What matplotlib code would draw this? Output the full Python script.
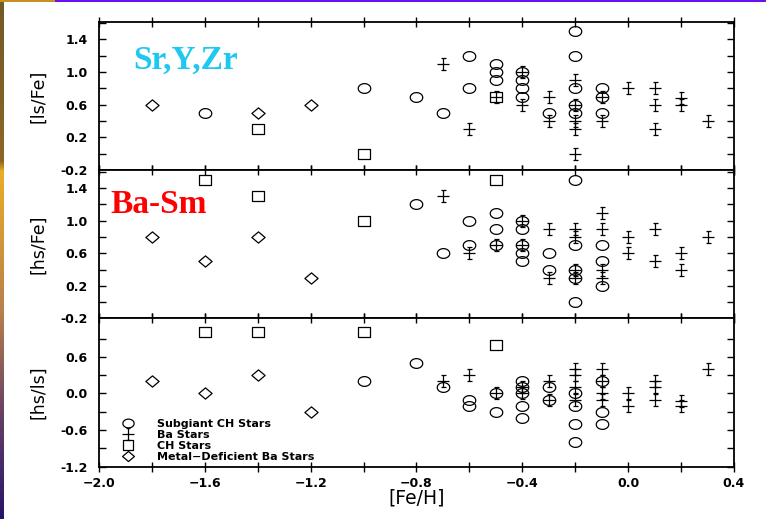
import numpy as np
import matplotlib
matplotlib.use("Agg")
import matplotlib.pyplot as plt
from matplotlib.path import Path
from matplotlib.ticker import FixedLocator
from matplotlib.patches import Rectangle

# ---- [ls/Fe] panel ----
ls_sub_x = [-1.6, -1.0, -0.8, -0.7, -0.6, -0.6, -0.5, -0.5, -0.5, -0.4, -0.4, -0.4, -0.4,
            -0.3, -0.2, -0.2, -0.2, -0.2, -0.2, -0.1, -0.1, -0.1]
ls_sub_y = [0.5, 0.8, 0.7, 0.5, 1.2, 0.8, 1.1, 1.0, 0.9, 1.0, 0.9, 0.8, 0.7,
            0.5, 1.5, 1.2, 0.8, 0.6, 0.5, 0.8, 0.7, 0.5]
ls_ba_x = [-0.7, -0.6, -0.5, -0.4, -0.4, -0.3, -0.3, -0.2, -0.2, -0.2, -0.2, -0.2,
           -0.1, -0.1, 0.0, 0.1, 0.1, 0.1, 0.2, 0.2, 0.3]
ls_ba_y = [1.1, 0.3, 0.7, 1.0, 0.6, 0.7, 0.4, 0.9, 0.6, 0.4, 0.3, 0.0,
           0.7, 0.4, 0.8, 0.8, 0.6, 0.3, 0.68, 0.6, 0.4]
ls_ch_x = [-1.4, -1.0, -0.5]
ls_ch_y = [0.3, 0.0, 0.7]
ls_md_x = [-1.8, -1.4, -1.2]
ls_md_y = [0.6, 0.5, 0.6]

# ---- [hs/Fe] panel ----
hs_sub_x = [-0.8, -0.7, -0.6, -0.6, -0.5, -0.5, -0.5, -0.4, -0.4, -0.4, -0.4, -0.4,
            -0.3, -0.3, -0.2, -0.2, -0.2, -0.2, -0.2, -0.1, -0.1, -0.1]
hs_sub_y = [1.2, 0.6, 1.0, 0.7, 1.1, 0.9, 0.7, 1.0, 0.9, 0.7, 0.6, 0.5,
            0.6, 0.4, 1.5, 0.7, 0.4, 0.3, 0.0, 0.7, 0.5, 0.2]
hs_ba_x = [-0.7, -0.6, -0.5, -0.4, -0.4, -0.3, -0.3, -0.2, -0.2, -0.2, -0.2,
           -0.1, -0.1, -0.1, -0.1, 0.0, 0.0, 0.1, 0.1, 0.2, 0.2, 0.3]
hs_ba_y = [1.3, 0.6, 0.7, 1.0, 0.7, 0.9, 0.3, 0.9, 0.8, 0.4, 0.3,
           1.1, 0.9, 0.4, 0.3, 0.8, 0.6, 0.9, 0.5, 0.6, 0.4, 0.8]
hs_ch_x = [-1.6, -1.4, -1.0, -0.5]
hs_ch_y = [1.5, 1.3, 1.0, 1.5]
hs_md_x = [-1.8, -1.6, -1.4, -1.2]
hs_md_y = [0.8, 0.5, 0.8, 0.3]

# ---- [hs/ls] panel ----
hl_sub_x = [-1.0, -0.8, -0.7, -0.6, -0.6, -0.5, -0.5, -0.4, -0.4, -0.4, -0.4, -0.4,
            -0.3, -0.3, -0.2, -0.2, -0.2, -0.2, -0.1, -0.1, -0.1]
hl_sub_y = [0.2, 0.5, 0.1, -0.1, -0.2, 0.0, -0.3, 0.2, 0.1, 0.0, -0.2, -0.4,
            0.1, -0.1, 0.0, -0.2, -0.5, -0.8, 0.2, -0.3, -0.5]
hl_ba_x = [-0.7, -0.6, -0.5, -0.4, -0.4, -0.3, -0.3, -0.2, -0.2, -0.2, -0.2,
           -0.1, -0.1, -0.1, -0.1, 0.0, 0.0, 0.1, 0.1, 0.1, 0.2, 0.2, 0.3]
hl_ba_y = [0.2, 0.3, 0.0, 0.1, 0.0, 0.2, -0.1, 0.4, 0.3, 0.1, -0.1,
           0.4, 0.2, 0.0, -0.1, 0.0, -0.2, 0.2, 0.1, -0.1, -0.12, -0.2, 0.4]
hl_ch_x = [-1.6, -1.4, -1.0, -0.5]
hl_ch_y = [1.0, 1.0, 1.0, 0.8]
hl_md_x = [-1.8, -1.6, -1.4, -1.2]
hl_md_y = [0.2, 0.0, 0.3, -0.3]

labels = ["Subgiant CH Stars", "Ba Stars", "CH Stars", "Metal\u2212Deficient Ba Stars"]

# marker shapes
t = np.linspace(0, 2 * np.pi, 40)
ellipse = Path(np.column_stack([np.cos(t), 0.78 * np.sin(t)]), closed=True)
plus = Path([(-1, 0), (1, 0), (0, -1), (0, 1), (-0.4, 1), (0.4, 1), (-0.4, -1), (0.4, -1)],
            [Path.MOVETO, Path.LINETO] * 4)
square = Path([(-1, -0.85), (1, -0.85), (1, 0.85), (-1, 0.85), (-1, -0.85)], closed=True)
diamond = Path([(-1, 0), (0, 0.85), (1, 0), (0, -0.85), (-1, 0)], closed=True)
styles = [(ellipse, 9), (plus, 9), (square, 8.5), (diamond, 9.5)]

fig = plt.figure(figsize=(7.66, 5.19), dpi=100)
fig.patch.set_facecolor("white")
gs = fig.add_gridspec(3, 1, left=0.1292, right=0.9582, top=0.9576, bottom=0.1008, hspace=0)
axes = [fig.add_subplot(gs[i]) for i in range(3)]

panels = [
    ([ls_sub_x, ls_ba_x, ls_ch_x, ls_md_x], [ls_sub_y, ls_ba_y, ls_ch_y, ls_md_y]),
    ([hs_sub_x, hs_ba_x, hs_ch_x, hs_md_x], [hs_sub_y, hs_ba_y, hs_ch_y, hs_md_y]),
    ([hl_sub_x, hl_ba_x, hl_ch_x, hl_md_x], [hl_sub_y, hl_ba_y, hl_ch_y, hl_md_y]),
]
ylabels = ["[ls/Fe]", "[hs/Fe]", "[hs/ls]"]
ylims = [(-0.2, 1.61), (-0.2, 1.62), (-1.2, 1.23)]
majors = [[-0.2, 0.2, 0.6, 1.0, 1.4], [-0.2, 0.2, 0.6, 1.0, 1.4], [-1.2, -0.6, 0.0, 0.6]]
minors = [[0.0, 0.4, 0.8, 1.2, 1.6], [0.0, 0.4, 0.8, 1.2, 1.6], [-0.9, -0.3, 0.3, 0.9]]

handles = []
for i, ax in enumerate(axes):
    xs, ys = panels[i]
    for j in range(4):
        mk, ms = styles[j]
        h, = ax.plot(xs[j], ys[j], linestyle="none", marker=mk, markersize=ms,
                     markerfacecolor="none", markeredgecolor="black", markeredgewidth=0.9,
                     label=labels[j])
        if i == 2:
            handles.append(h)
    ax.set_xlim(-2.0, 0.4)
    ax.set_ylim(*ylims[i])
    ax.yaxis.set_major_locator(FixedLocator(majors[i]))
    ax.yaxis.set_minor_locator(FixedLocator(minors[i]))
    ax.xaxis.set_major_locator(FixedLocator([-2.0, -1.6, -1.2, -0.8, -0.4, 0.0, 0.4]))
    ax.xaxis.set_minor_locator(FixedLocator([-1.8, -1.4, -1.0, -0.6, -0.2, 0.2]))
    ax.yaxis.set_major_formatter(matplotlib.ticker.FormatStrFormatter("%.1f"))
    ax.tick_params(axis="y", which="both", direction="in", length=5, width=1,
                   left=True, right=True, pad=8, labelsize=9)
    ax.tick_params(axis="x", which="both", direction="inout", length=7, width=1,
                   top=True, bottom=True, pad=4, labelsize=9)
    for lab in ax.get_yticklabels():
        lab.set_fontweight("bold")
    for sp in ax.spines.values():
        sp.set_linewidth(1.3)
    ax.set_ylabel(ylabels[i], fontsize=12.5)
    ax.yaxis.set_label_coords(-0.082, 0.5)
    if i < 2:
        ax.tick_params(axis="x", labelbottom=False)
    else:
        for lab in ax.get_xticklabels():
            lab.set_fontweight("bold")
        ax.set_xlabel("[Fe/H]", fontsize=13.5)
        ax.xaxis.set_label_coords(0.5, -0.148)

axes[2].legend(handles=handles, loc="lower left", bbox_to_anchor=(0.032, 0.03),
               frameon=False, borderpad=0, borderaxespad=0, handlelength=1.5,
               handletextpad=1.9, labelspacing=0.1, markerscale=0.9,
               prop={"size": 8, "weight": "bold"})

fig.text(133 / 766, 1 - 69 / 519, "Sr,Y,Zr", color="#1ec8f0", fontsize=24,
         fontweight="bold", family="Liberation Serif", va="baseline")
fig.text(110 / 766, 1 - 213 / 519, "Ba-Sm", color="#ff0000", fontsize=24,
         fontweight="bold", family="Liberation Serif", va="baseline")

# slide decoration: gradient strip on the left and thin line on top
strip = fig.add_axes([0, 0, 4 / 766, 1])
stops = [0.0, 0.31, 0.33, 0.6, 0.8, 1.0]
cols = np.array([[0.45, 0.35, 0.15], [0.55, 0.40, 0.15], [0.92, 0.68, 0.15],
                 [0.72, 0.50, 0.30], [0.40, 0.25, 0.40], [0.15, 0.08, 0.40]])
pos = np.linspace(0, 1, 519)
grad = np.stack([np.interp(pos, stops, cols[:, k]) for k in range(3)], axis=-1)
strip.imshow(grad[:, None, :], aspect="auto")
strip.set_axis_off()
fig.add_artist(Rectangle((55 / 766, 1 - 2 / 519), 1, 2 / 519, transform=fig.transFigure,
                         color="#6a10f0", lw=0))
fig.add_artist(Rectangle((0, 1 - 2 / 519), 55 / 766, 2 / 519, transform=fig.transFigure,
                         color="#c89020", lw=0))

plt.savefig("out.png", dpi=100)
